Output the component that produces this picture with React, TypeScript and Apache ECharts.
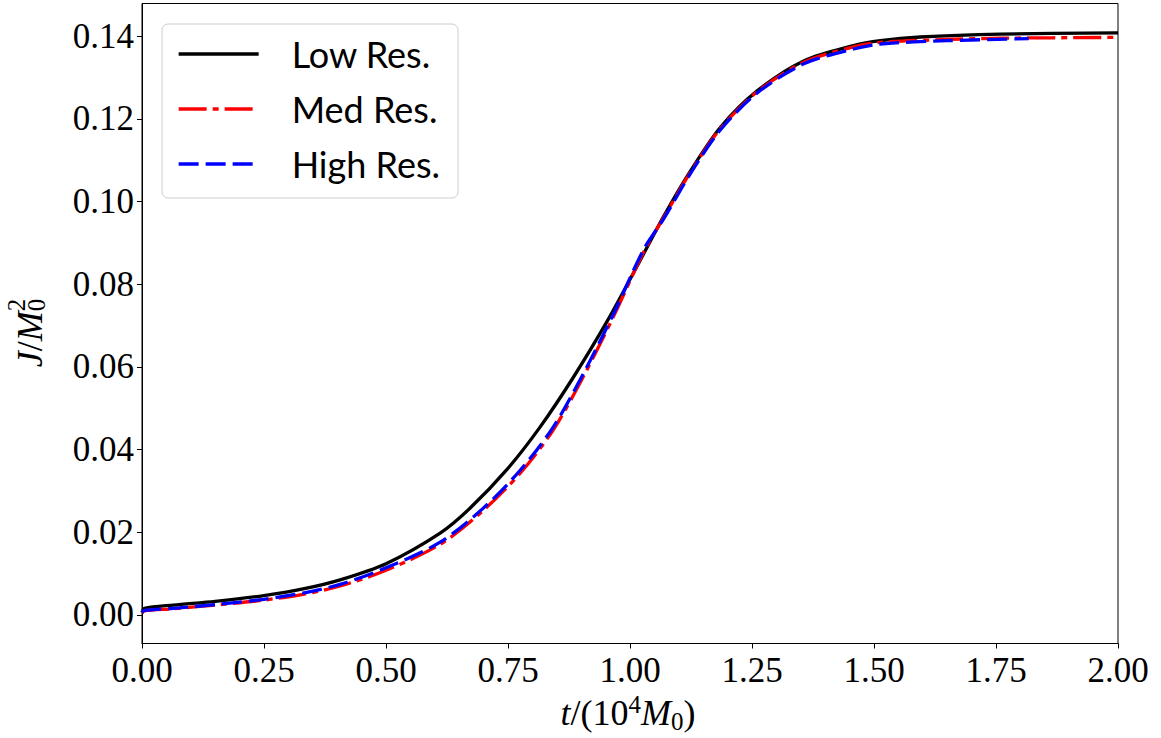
import { useEffect, useRef } from "react";
import * as echarts from "echarts";

// ---- data (t in 10^4 M0, J in M0^2) ----
const xTicks = [0, 0.25, 0.5, 0.75, 1.0, 1.25, 1.5, 1.75, 2.0];
const yTicks = [0, 0.02, 0.04, 0.06, 0.08, 0.1, 0.12, 0.14];
const seriesNames = ["Low Res.", "Med Res.", "High Res."];

const tLow = [0, 0.005, 0.064, 0.15, 0.25, 0.33, 0.406, 0.5, 0.611, 0.672, 0.748, 0.816, 0.884, 0.953, 1.007, 1.069, 1.124, 1.185, 1.26, 1.356, 1.458, 1.513, 1.595, 1.759, 2.0];
const jLow = [0.0006, 0.0016, 0.0024, 0.0033, 0.0047, 0.0063, 0.0085, 0.0124, 0.0198, 0.0258, 0.0352, 0.0455, 0.0575, 0.071, 0.0827, 0.0964, 0.1074, 0.1179, 0.1267, 0.134, 0.1377, 0.1389, 0.1398, 0.1405, 0.1408];

const tMed = [0, 0.005, 0.064, 0.15, 0.25, 0.33, 0.406, 0.5, 0.611, 0.693, 0.775, 0.843, 0.905, 0.967, 1.028, 1.069, 1.124, 1.185, 1.26, 1.356, 1.458, 1.513, 1.65, 1.759, 2.0];
const jMed = [0.0005, 0.001, 0.0015, 0.0024, 0.0036, 0.005, 0.007, 0.0108, 0.0171, 0.0246, 0.0343, 0.0448, 0.0578, 0.0724, 0.0878, 0.0961, 0.1071, 0.1176, 0.1265, 0.1337, 0.1374, 0.1385, 0.1392, 0.1395, 0.1397];

const tHigh = [0, 0.005, 0.064, 0.15, 0.25, 0.33, 0.406, 0.5, 0.611, 0.7, 0.775, 0.843, 0.905, 0.967, 1.028, 1.069, 1.124, 1.185, 1.26, 1.356, 1.458, 1.513, 1.65, 1.817];
const jHigh = [0.0006, 0.0011, 0.0016, 0.0025, 0.0038, 0.0053, 0.0074, 0.0114, 0.0176, 0.0259, 0.035, 0.0455, 0.0585, 0.073, 0.0884, 0.0958, 0.1068, 0.1173, 0.1262, 0.1333, 0.1369, 0.1381, 0.1389, 0.1394];

const zip = (t: number[], j: number[]) => t.map((v, i) => [v, j[i]]);

const SERIF_NAME = "Liberation Serif";
const SERIF = "'Liberation Serif', 'DejaVu Serif', serif";
const SANS = "Lato, 'DejaVu Sans', sans-serif";

type Piece = { text: string; size: number; italic?: boolean; dy: number; stack?: boolean };

function layoutPieces(pieces: Piece[]) {
  const ctx = document.createElement("canvas").getContext("2d")!;
  const out: { x: number; p: Piece }[] = [];
  let x = 0;
  let prevStart = 0;
  let prevW = 0;
  for (const p of pieces) {
    ctx.font = `${p.italic ? "italic " : ""}${p.size}px '${SERIF_NAME}'`;
    const w = ctx.measureText(p.text).width;
    if (p.stack) {
      out.push({ x: prevStart, p });
      const end = Math.max(prevStart + prevW, prevStart + w);
      x = end;
      prevW = end - prevStart;
    } else {
      out.push({ x, p });
      prevStart = x;
      prevW = w;
      x += w;
    }
  }
  return { items: out, width: x };
}

export default function App() {
  const ref = useRef<HTMLDivElement>(null);
  useEffect(() => {
    const chart = echarts.init(ref.current!, null, { renderer: "svg" });
    const lblFont = { fontSize: 35, fontFamily: SERIF, color: "#000" };
    const mk = (x: number, y: number, p: Piece) => ({
      type: "text",
      x,
      y: y + p.dy,
      style: {
        text: p.text,
        fontSize: p.size,
        fontFamily: SERIF,
        fontStyle: p.italic ? "italic" : "normal",
        fill: "#000",
        align: "left",
        verticalAlign: "middle",
      },
    });

    // x-axis title: t/(10^4 M_0), centred at x=628, baseline 725
    const xPieces: Piece[] = [
      { text: "t", size: 36, italic: true, dy: 0 },
      { text: "/(10", size: 36, dy: 0 },
      { text: "4", size: 25, dy: -8.5 },
      { text: "M", size: 36, italic: true, dy: 0 },
      { text: "0", size: 25, dy: 8.5 },
      { text: ")", size: 36, dy: 0 },
    ];
    const xl = layoutPieces(xPieces);
    const xStart = 628 - xl.width / 2;
    const xTitle = xl.items.map((it) => mk(xStart + it.x, 713, it.p));

    // y-axis title: J/M_0^2, rotated, centred at y=333
    const yPieces: Piece[] = [
      { text: "J", size: 36, italic: true, dy: 0 },
      { text: "/", size: 36, dy: 0 },
      { text: "M", size: 36, italic: true, dy: 0 },
      { text: "2", size: 25, dy: -13.5 },
      { text: "0", size: 25, dy: 6, stack: true },
    ];
    const yl = layoutPieces(yPieces);
    const yTitle = yl.items.map((it) => mk(it.x, -12, it.p));

    chart.setOption({
      animation: false,
      backgroundColor: "#fff",
      grid: {
        left: 142,
        right: 43,
        top: 3.5,
        bottom: 94.5,
        show: true,
        borderColor: "#000",
        borderWidth: 1,
        backgroundColor: "transparent",
      },
      xAxis: {
        type: "value",
        min: 0,
        max: 2,
        interval: 0.25,
        axisLine: { show: true, onZero: false, lineStyle: { color: "#000", width: 1 } },
        axisTick: { show: true, length: 5, customValues: xTicks, lineStyle: { color: "#000", width: 1 } },
        axisLabel: { ...lblFont, margin: 9, customValues: xTicks, formatter: (v: number) => v.toFixed(2) },
        splitLine: { show: false },
      },
      yAxis: {
        type: "value",
        min: -0.0069,
        max: 0.1479,
        axisLine: { show: true, onZero: false, lineStyle: { color: "#000", width: 1 } },
        axisTick: { show: true, length: 5, customValues: yTicks, lineStyle: { color: "#000", width: 1 } },
        axisLabel: { ...lblFont, margin: 8, customValues: yTicks, formatter: (v: number) => v.toFixed(2) },
        splitLine: { show: false },
      },
      legend: {
        orient: "vertical",
        left: 162,
        top: 24,
        data: seriesNames,
        itemWidth: 80,
        itemHeight: 14,
        itemGap: 19,
        padding: [12, 18, 16, 15],
        backgroundColor: "rgba(255,255,255,0.8)",
        borderColor: "#cccccc",
        borderWidth: 1,
        borderRadius: 6,
        itemStyle: { opacity: 0 },
        lineStyle: { width: 3.3 },
        textStyle: { fontSize: 36, fontFamily: SANS, color: "#000", padding: [0, 0, 0, 28] },
      },
      series: [
        {
          name: seriesNames[0],
          type: "line",
          data: zip(tLow, jLow),
          symbol: "none",
          smooth: 0.3,
          lineStyle: { color: "#000000", width: 3.3, type: "solid" },
          itemStyle: { color: "#000000" },
        },
        {
          name: seriesNames[1],
          type: "line",
          data: zip(tMed, jMed),
          symbol: "none",
          smooth: 0.3,
          lineStyle: { color: "#ff0000", width: 3.3, type: [28, 6, 6, 6] },
          itemStyle: { color: "#ff0000" },
        },
        {
          name: seriesNames[2],
          type: "line",
          data: zip(tHigh, jHigh),
          symbol: "none",
          smooth: 0.3,
          lineStyle: { color: "#0000ff", width: 3.3, type: [20, 7] },
          itemStyle: { color: "#0000ff" },
        },
      ],
      graphic: [
        { type: "group", children: xTitle },
        {
          type: "group",
          x: 42,
          y: 333 + yl.width / 2,
          rotation: Math.PI / 2,
          children: yTitle,
        },
      ],
    });
    return () => chart.dispose();
  }, []);
  return <div ref={ref} style={{ position: "absolute", left: 0, top: 0, width: 1161, height: 738 }} />;
}
